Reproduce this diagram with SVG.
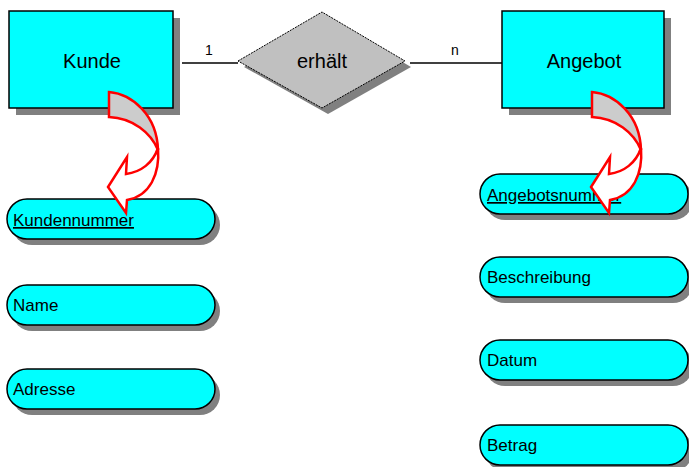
<svg xmlns="http://www.w3.org/2000/svg" width="689" height="467" viewBox="0 0 689 467">
  <style>
    text { font-family: "Liberation Sans", Arial, sans-serif; fill: #000; }
    .shadow { fill: #808080; }
    .entity { fill: #00FFFF; stroke: #000; stroke-width: 1.5; }
    .rel { fill: #C0C0C0; stroke: #000; stroke-width: 1; stroke-dasharray: 2 1; }
    .attr { fill: #00FFFF; stroke: #000; stroke-width: 1.5; }
    .title { font-size: 20px; text-anchor: middle; }
    .label { font-size: 17px; }
    .card { font-size: 14px; text-anchor: middle; }
    .key { text-decoration: underline; }
    .link { stroke: #000; stroke-width: 1.5; fill: none; }
    .back { fill: #CCCCCC; stroke: #FF0000; stroke-width: 2.5; stroke-linejoin: miter; }
    .front { fill: #FFFFFF; stroke: #FF0000; stroke-width: 2.5; stroke-linejoin: miter; }
  </style>
  <defs>
    <rect id="pillShape" x="0" y="0" width="208" height="40" rx="20" ry="20"/>
    <g id="keyArrow">
      <path class="back" d="M109,92 C132,94 157,115 158,150 C151,133 133,118 109,117 Z"/>
      <path class="front" d="M158,148 C160,174 150,196 127,200 L126,213 L108,187 L127,157 L126,174 C141,172 153,163 158,148 Z"/>
    </g>
  </defs>

  <rect width="689" height="467" fill="#FFFFFF"/>

  <!-- connectors -->
  <g id="connectors">
    <line class="link" x1="182" y1="63" x2="238" y2="63"/>
    <line class="link" x1="410" y1="63" x2="502" y2="63"/>
    <text class="card" x="209" y="55">1</text>
    <text class="card" x="455" y="55">n</text>
  </g>

  <!-- entity Kunde -->
  <g id="kunde">
    <rect class="shadow" x="16" y="18" width="164" height="97"/>
    <rect class="entity" x="9" y="11" width="164" height="97"/>
    <text class="title" x="92" y="68">Kunde</text>
  </g>

  <!-- relationship erhält -->
  <g id="erhaelt">
    <polygon class="shadow" points="244,67 328,18 411,67 328,114"/>
    <polygon class="rel" points="238,61 322,12 405,61 322,108"/>
    <text class="title" x="322" y="68">erhält</text>
  </g>

  <!-- entity Angebot -->
  <g id="angebot">
    <rect class="shadow" x="509" y="18" width="162" height="97"/>
    <rect class="entity" x="502" y="11" width="162" height="97"/>
    <text class="title" x="584" y="68">Angebot</text>
  </g>

  <!-- attributes of Kunde -->
  <g id="kundennummer">
    <use href="#pillShape" x="12" y="205" class="shadow"/>
    <use href="#pillShape" x="7" y="199" class="attr"/>
    <text class="label key" x="13" y="226">Kundennummer</text>
  </g>
  <g id="name">
    <use href="#pillShape" x="12" y="291" class="shadow"/>
    <use href="#pillShape" x="7" y="285" class="attr"/>
    <text class="label" x="13" y="311">Name</text>
  </g>
  <g id="adresse">
    <use href="#pillShape" x="12" y="375" class="shadow"/>
    <use href="#pillShape" x="7" y="369" class="attr"/>
    <text class="label" x="13" y="395">Adresse</text>
  </g>

  <!-- attributes of Angebot -->
  <g id="angebotsnummer">
    <use href="#pillShape" x="485" y="180" class="shadow"/>
    <use href="#pillShape" x="480" y="174" class="attr"/>
    <text class="label key" x="487" y="201">Angebotsnummer</text>
  </g>
  <g id="beschreibung">
    <use href="#pillShape" x="485" y="263" class="shadow"/>
    <use href="#pillShape" x="480" y="257" class="attr"/>
    <text class="label" x="487" y="283">Beschreibung</text>
  </g>
  <g id="datum">
    <use href="#pillShape" x="485" y="346" class="shadow"/>
    <use href="#pillShape" x="480" y="340" class="attr"/>
    <text class="label" x="487" y="366">Datum</text>
  </g>
  <g id="betrag">
    <use href="#pillShape" x="485" y="431" class="shadow"/>
    <use href="#pillShape" x="480" y="425" class="attr"/>
    <text class="label" x="487" y="451">Betrag</text>
  </g>

  <!-- primary key markers -->
  <g id="key-kunde">
    <use href="#keyArrow"/>
  </g>
  <g id="key-angebot">
    <use href="#keyArrow" x="483"/>
  </g>
</svg>
